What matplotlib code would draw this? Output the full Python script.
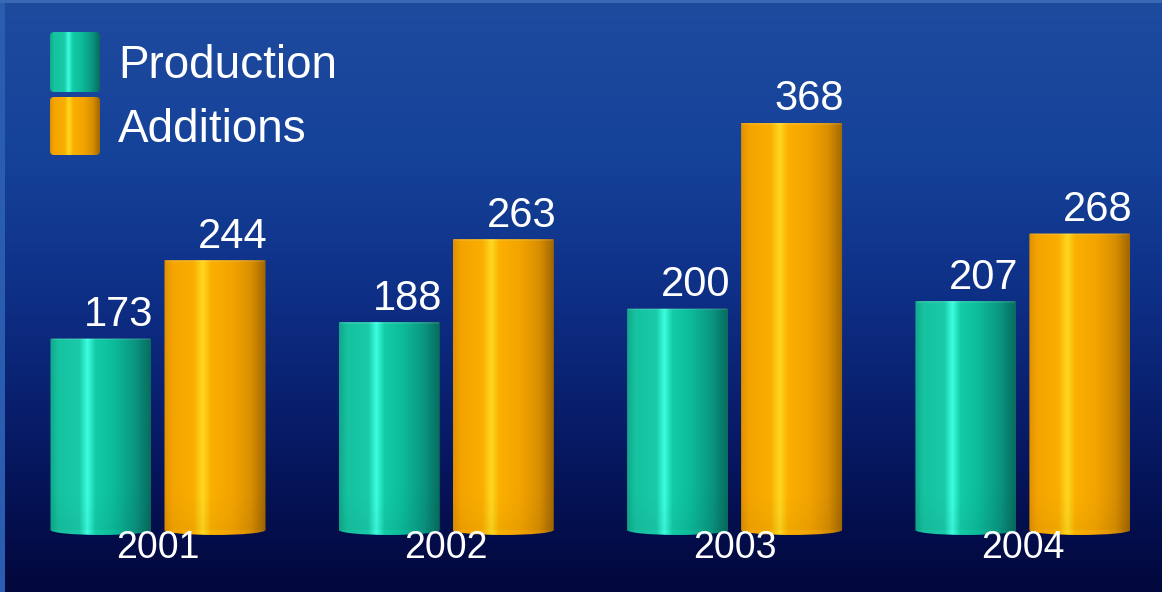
import numpy as np
import matplotlib
matplotlib.use("Agg")
import matplotlib.pyplot as plt
from matplotlib.colors import LinearSegmentedColormap
from matplotlib.patches import Rectangle, Ellipse, FancyBboxPatch

# ---- data ----
years = ["2001", "2002", "2003", "2004"]
series_names = ["Production", "Additions"]
production = [173, 188, 200, 207]
additions = [244, 263, 368, 268]

plt.rcParams['font.family'] = ['Liberation Sans', 'DejaVu Sans']

W, H = 1162, 592
fig = plt.figure(figsize=(W / 100, H / 100), dpi=100)

# background axes (pixel coords)
bg = fig.add_axes([0, 0, 1, 1], zorder=0)
bg.set_xlim(0, W); bg.set_ylim(H, 0); bg.axis('off')
bg_cmap = LinearSegmentedColormap.from_list("bg", [
    (0.0, "#1e4b9e"), (0.25, "#16439a"), (0.5, "#0e2f86"),
    (0.72, "#081c68"), (0.88, "#040f4e"), (1.0, "#02083c")])
grad = np.linspace(0, 1, 256).reshape(-1, 1)
bg.imshow(grad, cmap=bg_cmap, extent=(0, W, H, 0), aspect='auto', interpolation='bilinear')
bg.add_patch(Rectangle((0, 0), 5, H, color="#2a5cb0", lw=0))
bg.add_patch(Rectangle((0, 0), W, 3, color="#3a68b5", lw=0))

teal_cmap = LinearSegmentedColormap.from_list("teal", [
    (0.0, "#10a88a"), (0.08, "#16c2a0"), (0.29, "#1acaa8"), (0.37, "#3cffe0"),
    (0.45, "#14cca8"), (0.65, "#0cb898"), (0.85, "#0a9480"), (1.0, "#086c5e")])
orange_cmap = LinearSegmentedColormap.from_list("orange", [
    (0.0, "#e09000"), (0.08, "#f4a400"), (0.29, "#f9ae00"), (0.38, "#ffd820"),
    (0.46, "#fbb000"), (0.68, "#f2a300"), (0.86, "#d88e00"), (1.0, "#a06600")])
cmaps = [teal_cmap, orange_cmap]
hgrad = np.linspace(0, 1, 256).reshape(1, -1)

# main axes
ax = fig.add_axes([0, 0, 1, 1], zorder=1)
ax.patch.set_alpha(0)
ax.axis('off')
px_per_unit = 1.106
group_px = 288.3
x0_px = 158
xlim = (-x0_px / group_px, (W - x0_px) / group_px)
ylim = (-(H - 530) / px_per_unit, 530 / px_per_unit)

x = np.arange(len(years))
bw = 101 / group_px
off = (101 + 13) / 2 / group_px
cap = 9.0  # ellipse height in data units

for si, vals in enumerate([production, additions]):
    xs = x + (-off if si == 0 else off)
    bars = ax.bar(xs, vals, width=bw, color='none', edgecolor='none')
    for b, v in zip(bars, vals):
        bx = b.get_x(); bwid = b.get_width()
        body = FancyBboxPatch((bx, 0), bwid, v, boxstyle="round,pad=0,rounding_size=0.01",
                              mutation_aspect=px_per_unit * group_px / 100 * 0.35,
                              transform=ax.transData, facecolor='none', edgecolor='none')
        ax.add_patch(body)
        im = ax.imshow(hgrad, cmap=cmaps[si], extent=(bx, bx + bwid, 0, v),
                       aspect='auto', interpolation='bilinear', zorder=2)
        im.set_clip_path(body)
        ell = Ellipse((bx + bwid / 2, 0), bwid, cap, transform=ax.transData,
                      facecolor='none', edgecolor='none')
        ax.add_patch(ell)
        im2 = ax.imshow(hgrad, cmap=cmaps[si], extent=(bx, bx + bwid, -cap, 0),
                        aspect='auto', interpolation='bilinear', zorder=2)
        im2.set_clip_path(ell)
        sh = np.zeros((64, 1, 4)); sh[..., 3] = np.linspace(0.0, 0.15, 64).reshape(-1, 1) ** 1.5
        im3 = ax.imshow(sh, extent=(bx, bx + bwid, 40, -cap), aspect='auto',
                        interpolation='bilinear', zorder=3, origin='lower')
        im3.set_clip_path(body)
        ax.plot([bx + 0.004, bx + bwid - 0.004], [v - 0.6, v - 0.6], color='white',
                alpha=0.10, lw=1.5, zorder=3, solid_capstyle='butt')
        ax.annotate(str(v), (bx + bwid / 2, v), xytext=(13, 9), textcoords='offset points',
                    ha='center', va='baseline', fontsize=30, color='white', zorder=5)

for xi, yr in zip(x, years):
    ax.text(xi, -25.5, yr, ha='center', va='baseline', fontsize=27, color='white', zorder=6)

ax.set_xlim(*xlim)
ax.set_ylim(*ylim)

# legend (pixel coords overlay)
lg = fig.add_axes([0, 0, 1, 1], zorder=2)
lg.patch.set_alpha(0); lg.axis('off')
sw = [(50, 32, 92), (50, 97, 155)]
for si, (sx, y0, y1) in enumerate(sw):
    p = FancyBboxPatch((sx, y0), 50, y1 - y0, boxstyle="round,pad=0,rounding_size=4",
                       facecolor='none', edgecolor='none')
    lg.add_patch(p)
    im = lg.imshow(hgrad, cmap=cmaps[si], extent=(sx, sx + 50, y1, y0), aspect='auto',
                   interpolation='bilinear')
    im.set_clip_path(p)
    lg.text(118, (y0 + y1) / 2 + 4, series_names[si], ha='left', va='center',
            fontsize=33, color='white')
lg.set_xlim(0, W); lg.set_ylim(H, 0)

fig.savefig("out.png", dpi=100)
